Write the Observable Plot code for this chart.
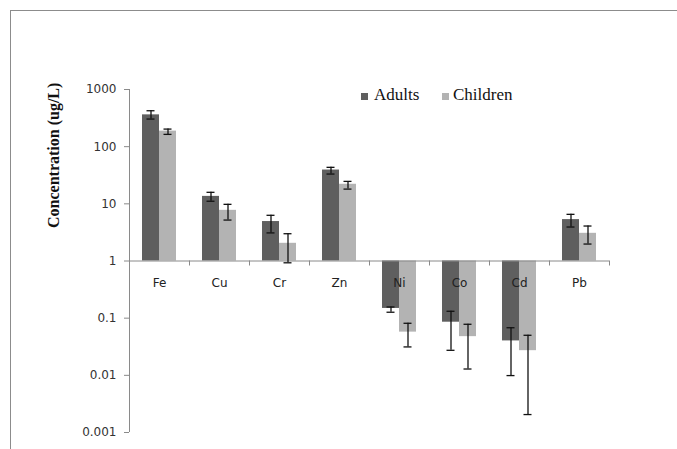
<!DOCTYPE html>
<html>
<head>
<meta charset="utf-8">
<script src="https://cdn.jsdelivr.net/npm/d3@7"></script>
<script src="https://cdn.jsdelivr.net/npm/@observablehq/plot@0.6"></script>
<style>
  html, body { margin: 0; padding: 0; background: #fff; overflow: hidden; }
  #wrap { position: relative; width: 677px; height: 449px; }
  #border { position: absolute; left: 10px; top: 10px; width: 720px; height: 480px;
            border-top: 1px solid #8c8c8c; border-left: 1px solid #8c8c8c;
            box-shadow: -1px -1px 0 #cfcfcf inset; }
  #chart { position: absolute; left: 0; top: 0; }
  #legend { position: absolute; top: 85px; left: 0; font-family: "Liberation Serif", serif;
            font-size: 17px; color: #111; }
  #legend span.item { position: absolute; white-space: nowrap; }
  #legend span.sw { position: absolute; width: 7px; height: 7px; }
</style>
</head>
<body>
<div id="wrap">
  <div id="border"></div>
  <div id="chart"></div>
  <div id="legend"></div>
</div>
<script>
// ---- data ----
const metals = ["Fe", "Cu", "Cr", "Zn", "Ni", "Co", "Cd", "Pb"];
const series = ["Adults", "Children"];
const seriesColors = ["#5f5f5f", "#b3b3b3"];

const adults     = [360,  13.5, 4.9,  39,   0.148, 0.085,  0.040,  5.3];
const adultsLo   = [304,  11.1, 3.1,  33.2, 0.127, 0.0274, 0.0099, 3.93];
const adultsHi   = [425,  15.9, 6.3,  43.5, 0.157, 0.132,  0.068,  6.55];
const children   = [187,  7.7,  2.04, 22,   0.057, 0.0475, 0.027,  3.05];
const childrenLo = [164,  5.2,  0.93, 18.1, 0.0314, 0.0129, 0.00206, 1.98];
const childrenHi = [203,  9.8,  3.0,  24.7, 0.0814, 0.0782, 0.0502, 4.09];

const yTicks = [0.001, 0.01, 0.1, 1, 10, 100, 1000];
const yTickLabels = ["0.001", "0.01", "0.1", "1", "10", "100", "1000"];
const yTitle = "Concentration (ug/L)";

// ---- build table ----
const rows = [];
metals.forEach((m, i) => {
  rows.push({metal: m, group: "Adults", value: adults[i], lo: adultsLo[i], hi: adultsHi[i]});
  rows.push({metal: m, group: "Children", value: children[i], lo: childrenLo[i], hi: childrenHi[i]});
});

const axisColor = "#8a8a8a";

const chart = Plot.plot({
  width: 677,
  height: 449,
  marginLeft: 128,
  marginRight: 68,
  marginTop: 89,
  marginBottom: 17,
  style: {fontFamily: "DejaVu Sans", fontSize: "12px", background: "transparent"},
  fx: {domain: metals, paddingInner: 0, paddingOuter: 0, axis: null, label: null},
  x: {domain: series, paddingInner: 0, paddingOuter: 0.76, axis: null, label: null},
  y: {type: "log", domain: [0.001, 1000], label: null},
  color: {domain: series, range: seriesColors},
  marks: [
    Plot.axisY({ticks: yTicks, tickFormat: d => yTickLabels[yTicks.indexOf(d)],
      tickSize: 5, tickPadding: 8, stroke: axisColor, fill: "#333", label: null}),
    // y axis line
    Plot.ruleX(["Fe"], {fx: d => d, x: null, y1: 0.001, y2: 1000, dx: -30, stroke: axisColor}),
    // bars from 1
    Plot.barY(rows, {fx: "metal", x: "group", y1: 1, y2: "value", fill: "group"}),
    // x axis line at 1
    Plot.ruleY([1], {stroke: axisColor}),
    // category boundary ticks
    Plot.ruleX(metals, {fx: d => d, x: null, y1: 1, y2: 1, insetBottom: -5, dx: -30, stroke: axisColor}),
    Plot.ruleX(["Pb"], {fx: d => d, x: null, y1: 1, y2: 1, insetBottom: -5, dx: 30, stroke: axisColor}),
    // error bars
    Plot.ruleX(rows, {fx: "metal", x: "group", y1: "lo", y2: "hi", stroke: "#111", strokeWidth: 1.3}),
    Plot.tickY(rows, {fx: "metal", x: "group", y: "lo", insetLeft: 4.5, insetRight: 4.5, stroke: "#111", strokeWidth: 1.3}),
    Plot.tickY(rows, {fx: "metal", x: "group", y: "hi", insetLeft: 4.5, insetRight: 4.5, stroke: "#111", strokeWidth: 1.3}),
    // category labels
    Plot.text(metals, {fx: d => d, x: null, y: 1, text: d => d, dy: 22, fill: "#222", fontSize: 12}),
    // y title
    Plot.text([yTitle], {fx: () => "Fe", x: null, frameAnchor: "left", rotate: -90, dx: -76, dy: -33,
      text: d => d, fontFamily: "Liberation Serif", fontWeight: "bold", fontSize: 16, fill: "#111"})
  ]
});
document.getElementById("chart").appendChild(chart);

// legend
const legend = document.getElementById("legend");
const legendPos = [[361, 374], [442, 453]];
series.forEach((s, i) => {
  const sw = document.createElement("span");
  sw.className = "sw";
  sw.style.background = seriesColors[i];
  sw.style.left = legendPos[i][0] + "px";
  sw.style.top = "8px";
  legend.appendChild(sw);
  const t = document.createElement("span");
  t.className = "item";
  t.textContent = s;
  t.style.left = legendPos[i][1] + "px";
  t.style.top = "0px";
  legend.appendChild(t);
});
</script>
</body>
</html>
